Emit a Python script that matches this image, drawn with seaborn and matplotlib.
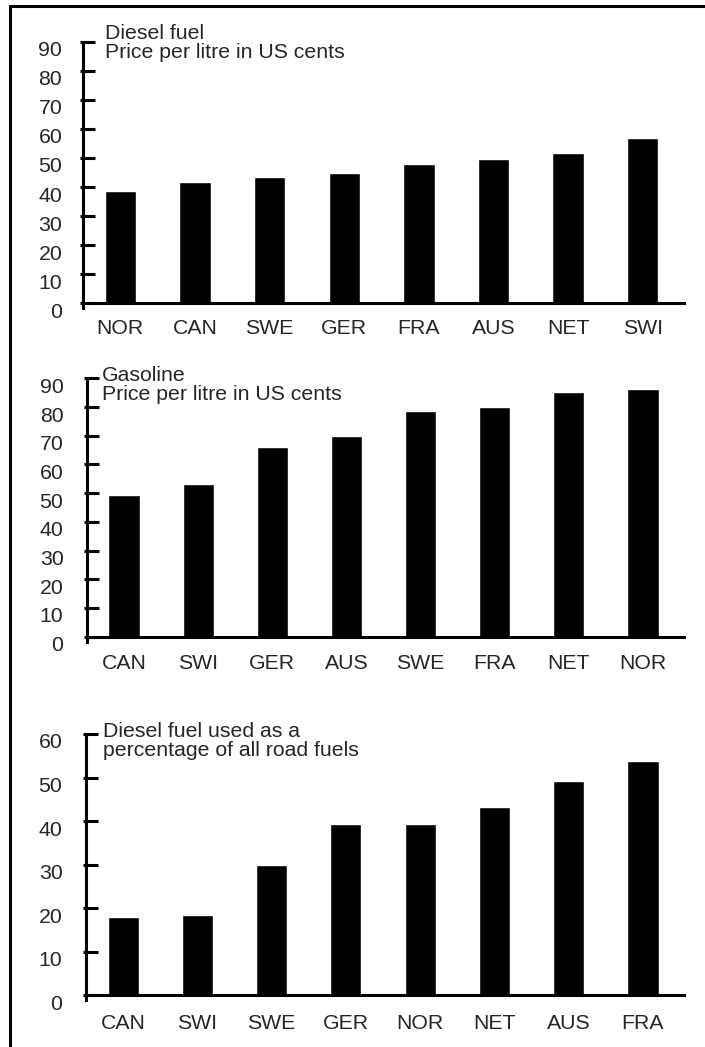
import matplotlib
matplotlib.use("Agg")
import matplotlib.pyplot as plt
import matplotlib.transforms as mtransforms
from matplotlib.lines import Line2D
import pandas as pd
import seaborn as sns

# chart data
diesel_countries = ['NOR', 'CAN', 'SWE', 'GER', 'FRA', 'AUS', 'NET', 'SWI']
diesel_price = [38.7, 41.8, 43.4, 44.8, 47.9, 49.5, 51.8, 56.8]

gas_countries = ['CAN', 'SWI', 'GER', 'AUS', 'SWE', 'FRA', 'NET', 'NOR']
gas_price = [49.5, 53.3, 66.0, 69.9, 78.5, 80.1, 85.3, 86.3]

share_countries = ['CAN', 'SWI', 'SWE', 'GER', 'NOR', 'NET', 'AUS', 'FRA']
diesel_share = [18.0, 18.4, 29.9, 39.4, 39.4, 43.2, 49.1, 53.9]

diesel_ticks = [0, 10, 20, 30, 40, 50, 60, 70, 80, 90]
gas_ticks = [0, 10, 20, 30, 40, 50, 60, 70, 80, 90]
share_ticks = [0, 10, 20, 30, 40, 50, 60]

sns.set_style('white')
plt.rcParams['font.family'] = ['Liberation Sans', 'DejaVu Sans']

W, H = 705, 1047
fig = plt.figure(figsize=(W / 100, H / 100), dpi=100)

LW = 2.2
TXT = 15.3


def draw_panel(countries, values, ticks, axis_x, top_px, zero_px, title, title_xy, xpad, ypad):
    ext = 5  # axis line runs a little below zero
    right = 686
    bottom = zero_px + ext
    ax = fig.add_axes([axis_x / W, 1 - bottom / H, (right - axis_x) / W, (bottom - top_px) / H])
    df = pd.DataFrame({'country': countries, 'value': values})
    sns.barplot(data=df, x='country', y='value', color='black', saturation=1,
                width=0.42, ax=ax)
    ymax = ticks[-1]
    ppu = (zero_px - top_px) / ymax
    ax.set_ylim(-ext / ppu, ymax)
    ax.set_xlim(-0.5, 7.58)
    ax.axhline(0, color='black', lw=LW, zorder=3)
    for s in ['top', 'right', 'bottom']:
        ax.spines[s].set_visible(False)
    ax.spines['left'].set_linewidth(LW)
    ax.spines['left'].set_color('black')
    ax.set_xlabel('')
    ax.set_ylabel('')
    ax.set_yticks(ticks)
    ax.set_yticks(ticks, minor=True)
    ax.yaxis.remove_overlapping_locs = False
    ax.tick_params(axis='y', which='major', direction='in', length=8.4, width=LW,
                   color='black', labelsize=TXT, pad=ypad, left=True)
    ax.tick_params(axis='y', which='minor', direction='out', length=2.4, width=LW,
                   color='black', left=True)
    ax.tick_params(axis='x', length=0, labelsize=TXT, pad=xpad)
    off = mtransforms.ScaledTranslation(0, -0.07, fig.dpi_scale_trans)
    for lab in ax.get_yticklabels():
        lab.set_transform(lab.get_transform() + off)
    fig.text(title_xy[0] / W, 1 - title_xy[1] / H, title, ha='left', va='top',
             fontsize=TXT, linespacing=0.98)
    return ax


draw_panel(diesel_countries, diesel_price, diesel_ticks, 83, 41.7, 303.3,
           'Diesel fuel\nPrice per litre in US cents', (105, 24), 8.0, 15)
draw_panel(gas_countries, gas_price, gas_ticks, 87, 378.3, 636.7,
           'Gasoline\nPrice per litre in US cents', (102, 366), 8.8, 17)
draw_panel(share_countries, diesel_share, share_ticks, 86, 734, 995.3,
           'Diesel fuel used as a\npercentage of all road fuels', (103, 722), 10.2, 17)

# outer frame: top and left edges only
fig.add_artist(Line2D([10 / W, 1], [1 - 6 / H, 1 - 6 / H], color='black', lw=2.2))
fig.add_artist(Line2D([10 / W, 10 / W], [0, 1 - 6 / H], color='black', lw=2.2))

fig.savefig('out.png', dpi=100)
